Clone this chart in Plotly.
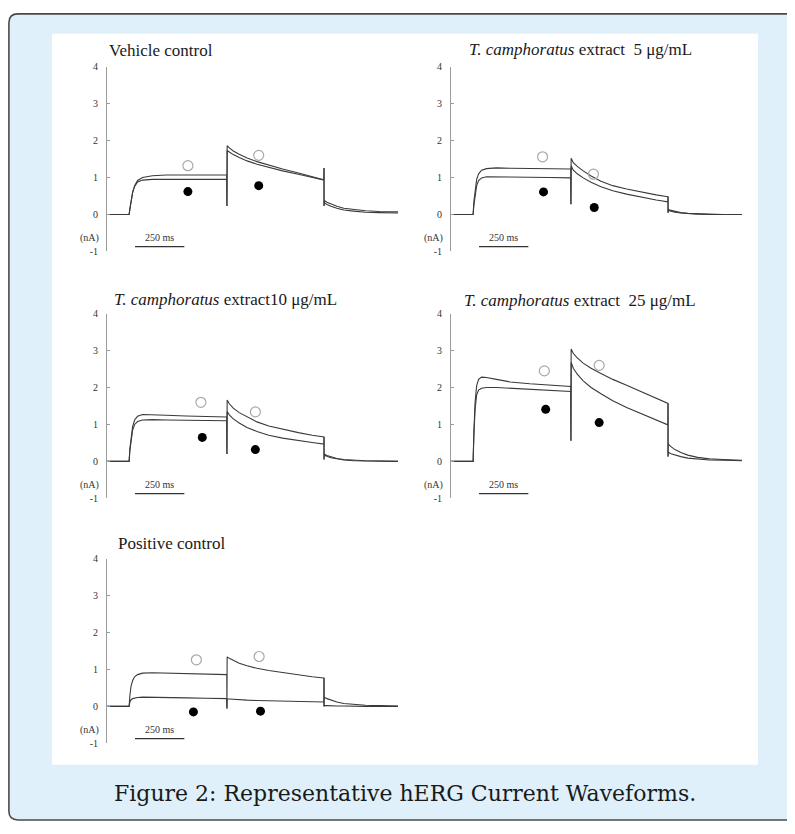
import plotly.graph_objects as go

PAGE_OFFSET = 8  # the page body places the figure 8 px from the top-left corner
W, H = 795 - PAGE_OFFSET, 834 - 2 * PAGE_OFFSET

# ---------------- data ----------------
panel_titles = [
    "Vehicle control",
    "<i>T. camphoratus</i> extract\u00a0 5 μg/mL",
    "<i>T. camphoratus</i> extract10 μg/mL",
    "<i>T. camphoratus</i> extract\u00a0 25 μg/mL",
    "Positive control",
]
y_ticks = [-1, 0, 1, 2, 3, 4]
y_tick_labels = ["-1", "0", "1", "2", "3", "4"]
unit_label = "(nA)"
scale_bar_ms = [142, 392]
scale_label = "250 ms"
caption = "Figure 2: Representative hERG Current Waveforms."

# time points (ms)
t_step = [0, 112, 116, 122, 130, 140, 155, 180, 230, 300, 400, 500, 607]
t_spike1 = [608]
t_tail = [609, 620, 640, 670, 710, 760, 820, 890, 970, 1040, 1099]
t_spike2 = [1100, 1100]
t_off = [1101, 1115, 1135, 1165, 1200, 1250, 1310, 1380, 1475]

# currents (nA): trace a = upper, trace b = lower
# Vehicle control
veh_step_a = [0, 0, 0.15, 0.40, 0.60, 0.78, 0.92, 1.00, 1.05, 1.07, 1.07, 1.07, 1.07]
veh_step_b = [0, 0, 0.15, 0.40, 0.60, 0.76, 0.88, 0.93, 0.95, 0.95, 0.95, 0.95, 0.95]
veh_tail_a = [1.86, 1.80, 1.72, 1.63, 1.53, 1.43, 1.33, 1.23, 1.12, 1.02, 0.94]
veh_tail_b = [1.73, 1.69, 1.62, 1.54, 1.45, 1.36, 1.27, 1.18, 1.09, 1.00, 0.93]
veh_off_a = [0.38, 0.33, 0.28, 0.22, 0.17, 0.13, 0.10, 0.08, 0.07]
veh_off_b = [0.32, 0.27, 0.22, 0.17, 0.12, 0.09, 0.06, 0.05, 0.04]
veh_spike1 = [0.23]
veh_spike2 = [1.26, 0.23]
veh_open = ([410, 769], [1.32, 1.60])
veh_fill = ([410, 769], [0.62, 0.78])

# 5 ug/mL
c5_step_a = [0, 0, 0.35, 0.70, 0.95, 1.10, 1.20, 1.24, 1.26, 1.25, 1.24, 1.23, 1.23]
c5_step_b = [0, 0, 0.25, 0.55, 0.78, 0.92, 0.99, 1.02, 1.02, 1.02, 1.01, 1.00, 0.99]
c5_tail_a = [1.52, 1.40, 1.30, 1.18, 1.04, 0.90, 0.78, 0.69, 0.60, 0.53, 0.48]
c5_tail_b = [1.32, 1.20, 1.10, 0.99, 0.87, 0.75, 0.64, 0.55, 0.46, 0.39, 0.34]
c5_off_a = [0.14, 0.11, 0.08, 0.05, 0.03, 0.02, 0.01, 0.0, 0.0]
c5_off_b = [0.11, 0.09, 0.06, 0.04, 0.02, 0.01, 0.0, 0.0, 0.0]
c5_spike1 = [0.28]
c5_spike2 = [0.48, 0.05]
c5_open = ([464, 722], [1.56, 1.09])
c5_fill = ([469, 726], [0.61, 0.19])

# 10 ug/mL
c10_step_a = [0, 0, 0.35, 0.70, 0.95, 1.12, 1.22, 1.27, 1.27, 1.25, 1.23, 1.21, 1.20]
c10_step_b = [0, 0, 0.30, 0.62, 0.85, 1.00, 1.08, 1.12, 1.13, 1.12, 1.12, 1.11, 1.10]
c10_tail_a = [1.66, 1.56, 1.44, 1.32, 1.20, 1.07, 0.96, 0.87, 0.78, 0.71, 0.66]
c10_tail_b = [1.35, 1.26, 1.15, 1.04, 0.92, 0.81, 0.71, 0.63, 0.56, 0.51, 0.47]
c10_off_a = [0.20, 0.16, 0.12, 0.08, 0.05, 0.03, 0.02, 0.01, 0.0]
c10_off_b = [0.17, 0.14, 0.10, 0.07, 0.04, 0.02, 0.01, 0.0, 0.0]
c10_spike1 = [0.20]
c10_spike2 = [0.66, 0.05]
c10_open = ([476, 752], [1.60, 1.34])
c10_fill = ([483, 752], [0.65, 0.32])

# 25 ug/mL
c25_step_a = [0, 0, 0.80, 1.60, 2.05, 2.22, 2.28, 2.27, 2.22, 2.15, 2.10, 2.06, 2.03]
c25_step_b = [0, 0, 0.70, 1.40, 1.80, 1.93, 1.98, 2.00, 2.00, 1.98, 1.95, 1.92, 1.89]
c25_tail_a = [3.04, 2.92, 2.80, 2.66, 2.52, 2.38, 2.22, 2.06, 1.88, 1.72, 1.57]
c25_tail_b = [2.68, 2.52, 2.36, 2.18, 2.00, 1.83, 1.64, 1.46, 1.28, 1.12, 0.99]
c25_off_a = [0.47, 0.40, 0.32, 0.24, 0.17, 0.11, 0.07, 0.05, 0.03]
c25_off_b = [0.25, 0.21, 0.17, 0.13, 0.09, 0.06, 0.04, 0.03, 0.02]
c25_spike1 = [0.56]
c25_spike2 = [1.57, 0.13]
c25_open = ([473, 751], [2.45, 2.60])
c25_fill = ([480, 751], [1.41, 1.05])

# Positive control
pos_step_a = [0, 0, 0.30, 0.55, 0.70, 0.80, 0.86, 0.90, 0.91, 0.90, 0.88, 0.87, 0.86]
pos_step_b = [0, 0, 0.12, 0.18, 0.21, 0.23, 0.24, 0.25, 0.25, 0.24, 0.23, 0.22, 0.21]
pos_tail_a = [1.34, 1.30, 1.24, 1.17, 1.10, 1.03, 0.97, 0.91, 0.85, 0.80, 0.77]
pos_tail_b = [0.20, 0.20, 0.19, 0.18, 0.17, 0.16, 0.15, 0.14, 0.13, 0.12, 0.12]
pos_off_a = [0.25, 0.21, 0.17, 0.12, 0.08, 0.05, 0.03, 0.02, 0.01]
pos_off_b = [0.02, 0.02, 0.01, 0.01, 0.01, 0.0, 0.0, 0.0, 0.0]
pos_spike1 = [-0.06]
pos_spike2 = [0.77, 0.0]
pos_open = ([453, 771], [1.26, 1.35])
pos_fill = ([438, 778], [-0.15, -0.13])

panels = [
    (veh_step_a, veh_step_b, veh_tail_a, veh_tail_b, veh_off_a, veh_off_b, veh_spike1, veh_spike2, veh_open, veh_fill),
    (c5_step_a, c5_step_b, c5_tail_a, c5_tail_b, c5_off_a, c5_off_b, c5_spike1, c5_spike2, c5_open, c5_fill),
    (c10_step_a, c10_step_b, c10_tail_a, c10_tail_b, c10_off_a, c10_off_b, c10_spike1, c10_spike2, c10_open, c10_fill),
    (c25_step_a, c25_step_b, c25_tail_a, c25_tail_b, c25_off_a, c25_off_b, c25_spike1, c25_spike2, c25_open, c25_fill),
    (pos_step_a, pos_step_b, pos_tail_a, pos_tail_b, pos_off_a, pos_off_b, pos_spike1, pos_spike2, pos_open, pos_fill),
]

# ---------------- layout (screen pixel geometry) ----------------
panel_x_px = [(107, 399), (451, 743), (107, 399), (451, 743), (107, 399)]
panel_y_px = [(62.3, 249.4), (62.3, 249.4), (312.3, 499.4), (312.3, 499.4), (560.3, 747.4)]
title_pos = [(107, 46, "left"), (580, 45, "center"), (225, 298, "center"), (580, 299, "center"), (116, 545, "left")]


def px_x(p):
    return (p - PAGE_OFFSET) / W


def px_y(p):
    return 1 - (p - PAGE_OFFSET) / H


SERIF = "Liberation Serif, Times New Roman, serif"
LINE = "#3a3a3a"

fig = go.Figure()
layout_axes = {}
annotations = []

t_full = t_step + t_spike1 + t_tail + t_spike2 + t_off

for k, (sa, sb, ta, tb, oa, ob, sp1, sp2, op, fl) in enumerate(panels):
    n = "" if k == 0 else str(k + 1)
    xr, yr = "x" + n, "y" + n
    for s, tl, of in ((sa, ta, oa), (sb, tb, ob)):
        fig.add_trace(go.Scatter(
            x=t_full, y=s + sp1 + tl + sp2 + of, mode="lines",
            line=dict(color=LINE, width=1.1), xaxis=xr, yaxis=yr,
            showlegend=False, hoverinfo="skip"))
    fig.add_trace(go.Scatter(
        x=op[0], y=op[1], mode="markers",
        marker=dict(symbol="circle-open", size=10, color="#a8a8a8", line=dict(width=1.2)),
        xaxis=xr, yaxis=yr, showlegend=False))
    fig.add_trace(go.Scatter(
        x=fl[0], y=fl[1], mode="markers",
        marker=dict(symbol="circle", size=9, color="#000000"),
        xaxis=xr, yaxis=yr, showlegend=False))
    # scale bar
    fig.add_trace(go.Scatter(
        x=scale_bar_ms, y=[-0.87, -0.87], mode="lines",
        line=dict(color="#333333", width=1.3), xaxis=xr, yaxis=yr,
        showlegend=False, hoverinfo="skip"))
    annotations.append(dict(
        x=sum(scale_bar_ms) / 2, y=-0.87, xref=xr, yref=yr, text=scale_label,
        showarrow=False, yanchor="bottom", yshift=2,
        font=dict(family=SERIF, size=10, color="#333333")))
    annotations.append(dict(
        x=0, y=-0.64, xref=xr, yref=yr, text=unit_label, showarrow=False,
        xanchor="right", xshift=-6,
        font=dict(family=SERIF, size=10, color="#333333")))

    x0, x1 = panel_x_px[k]
    ytop, ybot = panel_y_px[k]
    layout_axes["xaxis" + n] = dict(
        domain=[px_x(x0), px_x(x1)], range=[0, 1480], visible=False,
        anchor=yr, fixedrange=True)
    layout_axes["yaxis" + n] = dict(
        domain=[px_y(ybot), px_y(ytop)], range=[-1.0005, 4.0005], anchor=xr,
        showline=True, linecolor="#9a9a9a", linewidth=1,
        ticks="inside", ticklen=3, tickcolor="#9a9a9a",
        tickvals=y_ticks, ticktext=y_tick_labels,
        tickfont=dict(family=SERIF, size=10, color="#333333"),
        ticklabelstandoff=6,
        showgrid=False, zeroline=False, fixedrange=True)

    tx, ty, anc = title_pos[k]
    annotations.append(dict(
        x=px_x(tx), y=px_y(ty), xref="paper", yref="paper", text=panel_titles[k],
        showarrow=False, xanchor=anc, yanchor="middle",
        font=dict(family=SERIF, size=17, color="#1a1a1a")))

annotations.append(dict(
    x=px_x(405), y=px_y(798), xref="paper", yref="paper", text=caption,
    showarrow=False, xanchor="center", yanchor="middle",
    font=dict(family="DejaVu Serif, serif", size=22, color="#1a1a1a")))

# background frame (top-left corner sits at the edge of the figure area)
bx0, by0, bx1, by1, r = 8.9, 8.9, 815, 825, 9
path = (
    f"M {px_x(bx0 + r)} {px_y(by0)} L {px_x(bx1)} {px_y(by0)} "
    f"L {px_x(bx1)} {px_y(by1)} "
    f"L {px_x(bx0 + r)} {px_y(by1)} "
    f"Q {px_x(bx0)} {px_y(by1)} {px_x(bx0)} {px_y(by1 - r)} "
    f"L {px_x(bx0)} {px_y(by0 + r)} "
    f"Q {px_x(bx0)} {px_y(by0)} {px_x(bx0 + r)} {px_y(by0)} Z"
)
shapes = [
    dict(type="path", path=path, xref="paper", yref="paper",
         fillcolor="#dff0fa", line=dict(color="#4a4a4a", width=1.6), layer="below"),
    dict(type="rect", xref="paper", yref="paper",
         x0=px_x(52), x1=px_x(758), y0=px_y(769), y1=px_y(29),
         fillcolor="#ffffff", line=dict(width=0), layer="below"),
]

fig.update_layout(
    width=W, height=H, margin=dict(l=0, r=0, t=0, b=0),
    paper_bgcolor="#ffffff", plot_bgcolor="rgba(0,0,0,0)",
    showlegend=False, annotations=annotations, shapes=shapes,
    **layout_axes)

fig.write_html("out.html")
